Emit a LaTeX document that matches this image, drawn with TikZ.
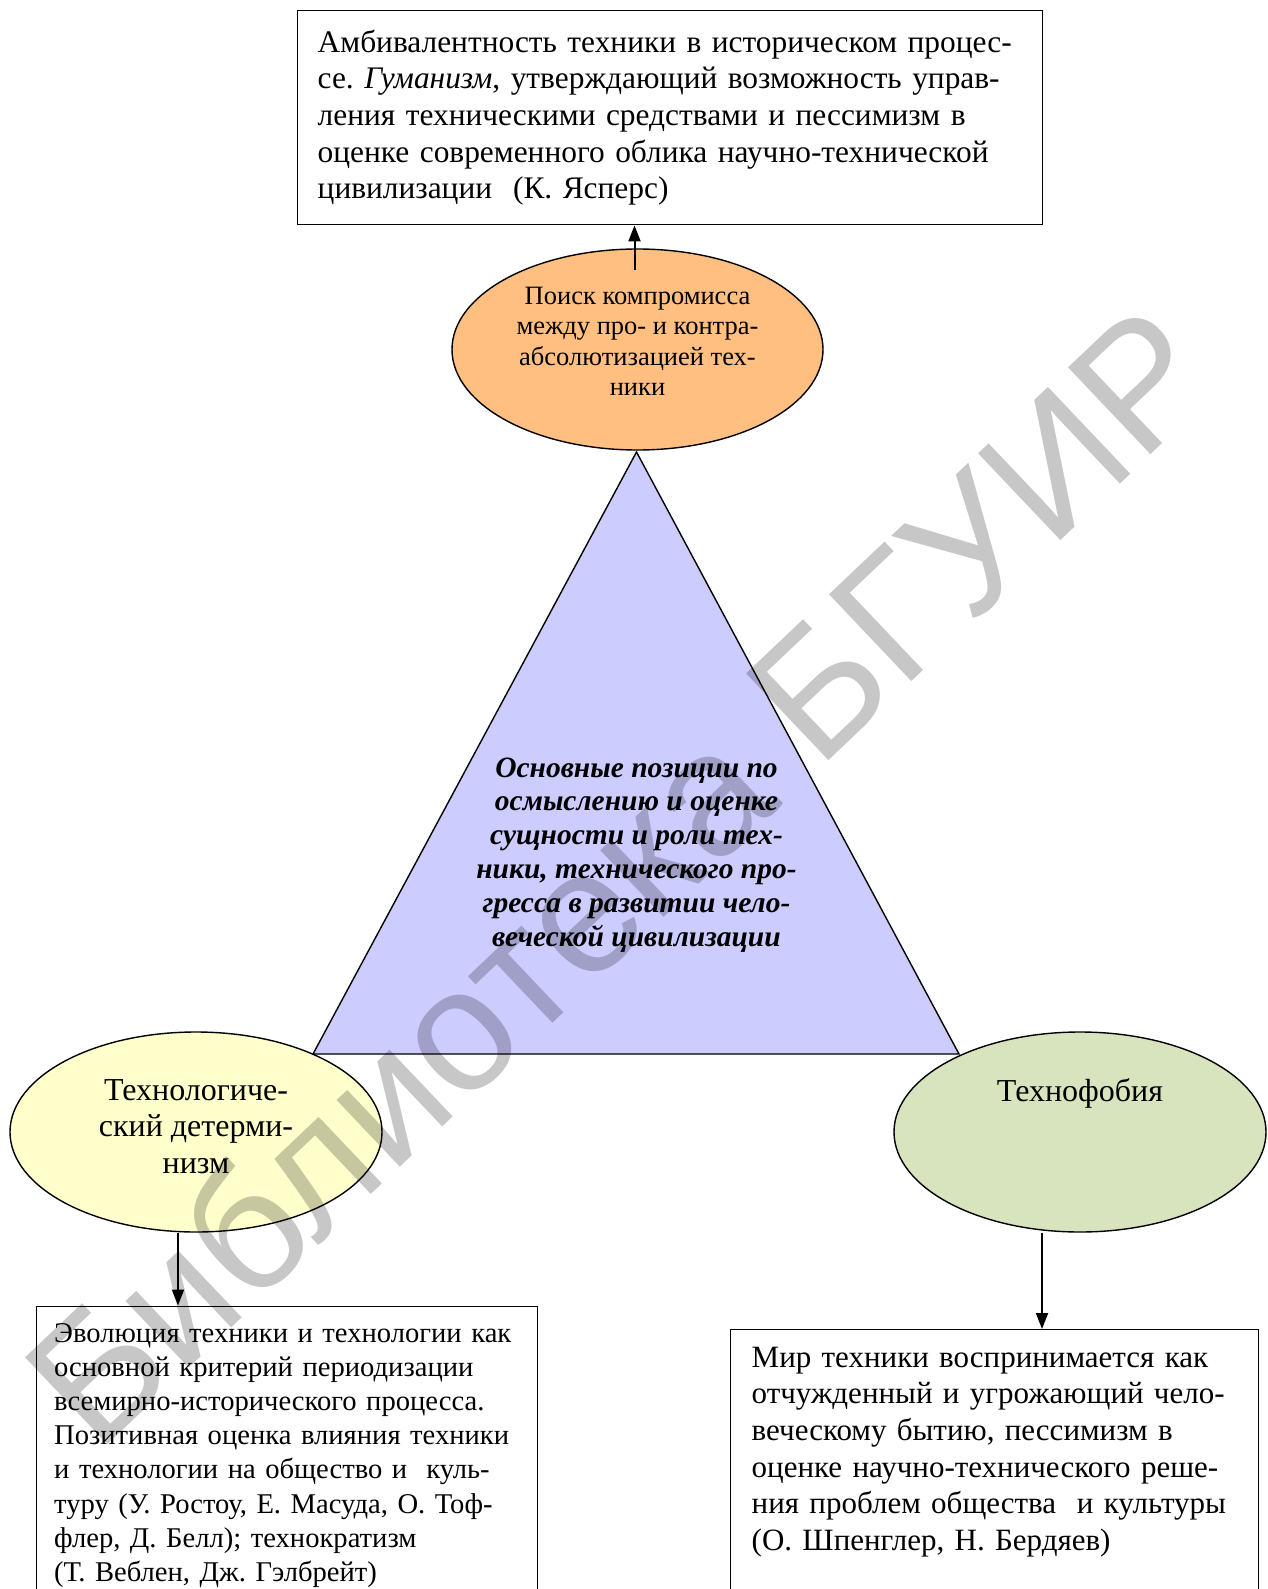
\documentclass[tikz,border=0pt]{standalone}
\usepackage{fontspec}
\setmainfont{Liberation Serif}
\newfontfamily\wmfont{Liberation Sans}
\usetikzlibrary{shapes.geometric,arrows.meta}
\definecolor{compfill}{HTML}{FFBF80}
\definecolor{trifill}{HTML}{CCCCFF}
\definecolor{detfill}{HTML}{FFFFCC}
\definecolor{phobfill}{HTML}{D7E4BD}
\frenchspacing
\tikzset{
  txtbox/.style={draw, line width=1.4pt, align=left, anchor=north west},
  oval/.style={ellipse, draw, line width=1.4pt, align=center, inner sep=0pt},
  arr/.style={-{Triangle[length=16pt,width=12pt]}, line width=2pt},
  wmark/.style={rotate=43.5, text=black, text opacity=0.22, font=\wmfont\fontsize{174}{174}\selectfont}
}
\begin{document}
\begin{tikzpicture}[x=1pt,y=-1pt]
\useasboundingbox (0,0) rectangle (1267,1589);

% top box
\node[txtbox, inner xsep=20pt, text width=705pt, minimum height=214pt,
  font=\fontsize{31.4}{36.6}\selectfont] (amb) at (297,10)
  {Амбивалентность техники в историческом процес-\\
   се. \textit{Гуманизм}, утверждающий возможность управ-\\
   ления техническими средствами и пессимизм в\\
   оценке современного облика научно-технической\\
   цивилизации\ \ (К. Ясперс)};

% triangle in the middle
\coordinate (apex) at (636.5,452);
\coordinate (bl) at (313,1054);
\coordinate (br) at (959,1054);
\filldraw[fill=trifill, line width=1.4pt] (apex) -- (bl) -- (br) -- cycle;
\node[align=center, font=\bfseries\itshape\fontsize{29.5}{33.9}\selectfont] (core) at (636.5,855)
  {Основные позиции по\\осмыслению и оценке\\сущности и роли тех-\\ники, технического про-\\гресса в развитии чело-\\веческой цивилизации};

% ovals
\node[oval, fill=compfill, minimum width=371pt, minimum height=201pt,
  font=\fontsize{26.5}{30.4}\selectfont] (comp) at (637.5,349.5)
  {Поиск компромисса\\между про- и контра-\\абсолютизацией тех-\\ники\\[-14.4pt]\mbox{}};
\node[oval, fill=detfill, minimum width=372pt, minimum height=200pt,
  font=\fontsize{32}{36.8}\selectfont] (det) at (196,1132)
  {Технологиче-\\ский детерми-\\низм\\[-25.8pt]\mbox{}};
\node[oval, fill=phobfill, minimum width=372pt, minimum height=200pt,
  font=\fontsize{32}{36.8}\selectfont] (phob) at (1080,1132)
  {Технофобия\\\mbox{}\\[10pt]\mbox{}};

% bottom boxes
\node[txtbox, inner xsep=18pt, inner ysep=17pt, text width=465pt,
  font=\fontsize{28.6}{34.2}\selectfont] (evol) at (35.5,1305.5)
  {Эволюция техники и технологии как\\
   основной критерий периодизации\\
   всемирно-исторического процесса.\\
   Позитивная оценка влияния техники\\
   и технологии на общество и\ \ куль-\\
   туру (У. Ростоу, Е. Масуда, О. Тоф-\\
   флер, Д. Белл); технократизм\\
   (Т. Веблен, Дж. Гэлбрейт)};
\node[txtbox, inner xsep=21pt, inner ysep=17pt, text width=486pt,
  font=\fontsize{31}{36.7}\selectfont] (alien) at (730,1329)
  {Мир техники воспринимается как\\
   отчужденный и угрожающий чело-\\
   веческому бытию, пессимизм в\\
   оценке научно-технического реше-\\
   ния проблем общества\ \ и культуры\\
   (О. Шпенглер, Н. Бердяев)\\\mbox{}\\\mbox{}};

% arrows
\draw[arr] ([xshift=-3pt,yshift=-22pt]comp.north) -- ([xshift=-3pt]comp.north |- amb.south);
\draw[arr] ([xshift=-18pt]det.south) -- ([xshift=-18pt]det.south |- evol.north);
\draw[arr] ([xshift=-38pt]phob.south) -- ([xshift=-38pt]phob.south |- alien.north);

% watermark
\node[wmark] (wm) at (618,874) {Библиотека БГУИР};
\end{tikzpicture}
\end{document}
